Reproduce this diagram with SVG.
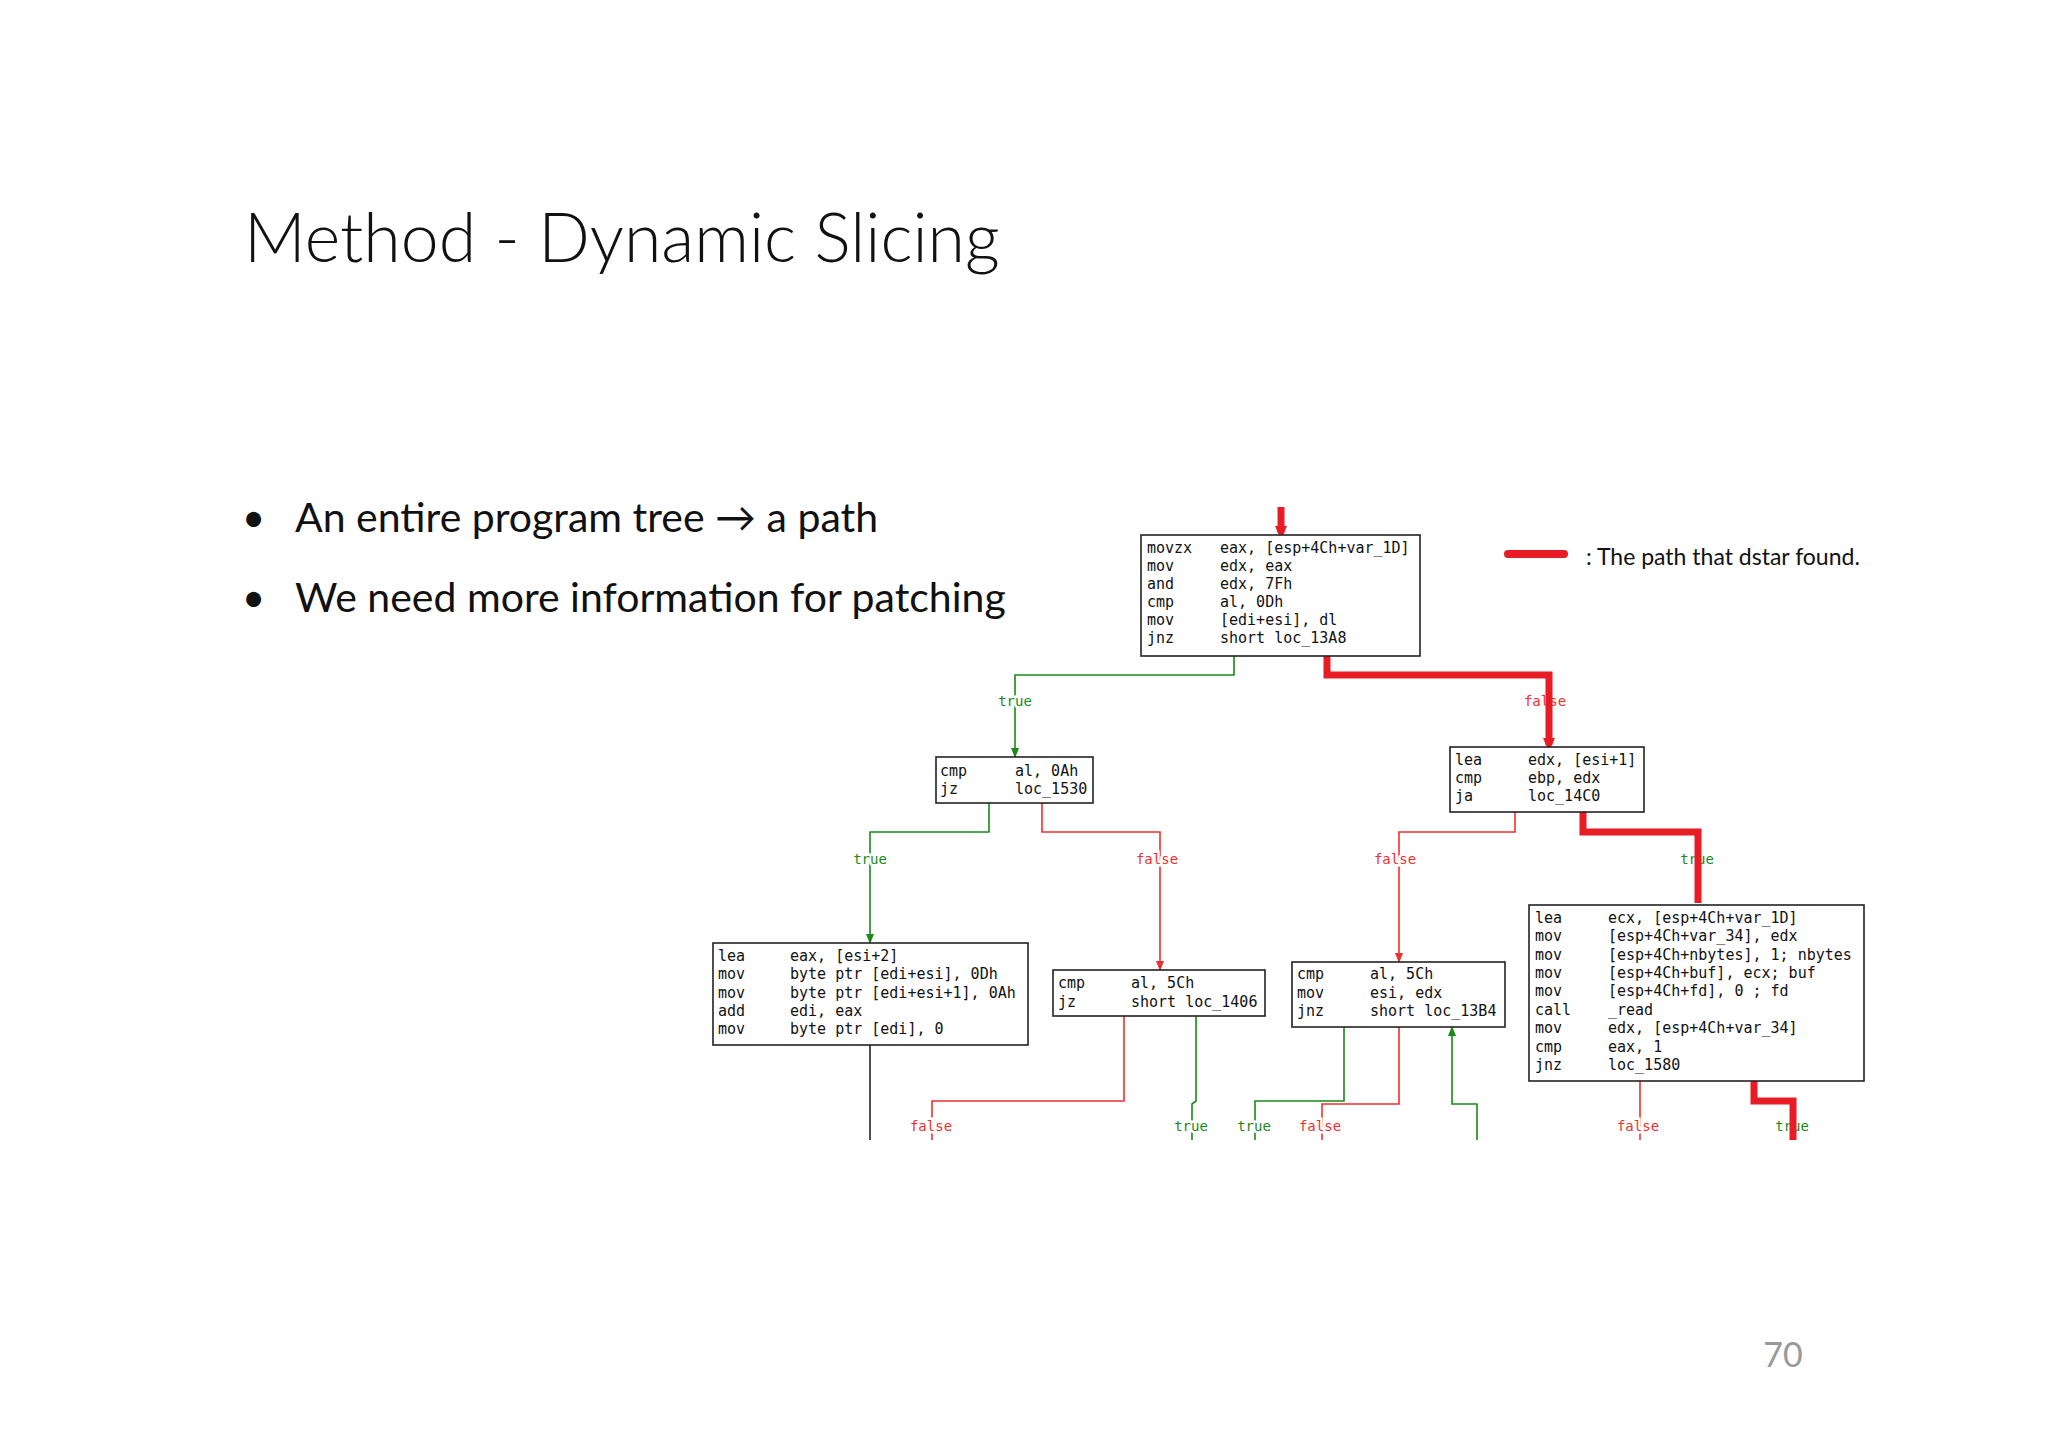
<svg xmlns="http://www.w3.org/2000/svg" width="2048" height="1447" viewBox="0 0 2048 1447">
<defs>
<style>
.t{font-family:Lato,"Open Sans","Liberation Sans",sans-serif;fill:#111}
.c{font-family:"DejaVu Sans Mono","Liberation Mono",monospace;font-size:15px;fill:#111}
.box{fill:#fff;stroke:#222;stroke-width:1.6}
.g{fill:none;stroke:#1a8a1a;stroke-width:1.6}
.r{fill:none;stroke:#f03030;stroke-width:1.6}
.k{fill:none;stroke:#222;stroke-width:1.6}
.R{fill:none;stroke:#e81c24;stroke-width:7}
.lb{font-family:"DejaVu Sans Mono","Liberation Mono",monospace;font-size:14px;text-anchor:middle;stroke:#fff;stroke-width:5;paint-order:stroke}
</style>
<marker id="ag" markerWidth="10" markerHeight="8" refX="9" refY="4" orient="auto" markerUnits="userSpaceOnUse"><path d="M0,0L10,4L0,8z" fill="#1a8a1a"/></marker>
<marker id="ar" markerWidth="10" markerHeight="8" refX="9" refY="4" orient="auto" markerUnits="userSpaceOnUse"><path d="M0,0L10,4L0,8z" fill="#f03030"/></marker>
<marker id="aR" markerWidth="14" markerHeight="12" refX="7" refY="6" orient="auto" markerUnits="userSpaceOnUse"><path d="M0,0L14,6L0,12z" fill="#e81c24"/></marker>
</defs>
<rect width="2048" height="1447" fill="#fff"/>
<text class="t" x="244" y="262" font-size="68" font-weight="300">Method - Dynamic Slicing</text>
<text class="t" x="242" y="532" font-size="40">•</text>
<text class="t" x="295" y="532" font-size="41">An entire program tree → a path</text>
<text class="t" x="242" y="612" font-size="40">•</text>
<text class="t" x="295" y="612" font-size="41">We need more information for patching</text>
<text class="t" x="1783" y="1367" font-size="34" fill="#999" text-anchor="middle" style="fill:#999">70</text>
<g id="legend"><line x1="1508" y1="554" x2="1564" y2="554" stroke="#e81c24" stroke-width="8" stroke-linecap="round"/><text class="t" x="1586" y="565" font-size="23">: The path that dstar found.</text></g>
<g id="connectors">
<polyline class="g" points="1234,656 1234,675 1015,675 1015,757" marker-end="url(#ag)"/>
<polyline class="g" points="989,803 989,832 870,832 870,943" marker-end="url(#ag)"/>
<polyline class="r" points="1042,803 1042,832 1160,832 1160,970" marker-end="url(#ar)"/>
<polyline class="r" points="1515,812 1515,832 1399,832 1399,962" marker-end="url(#ar)"/>
<polyline class="k" points="870,1045 870,1140"/>
<polyline class="r" points="1124,1016 1124,1101 932,1101 932,1140"/>
<polyline class="g" points="1196,1016 1196,1101 1192,1104 1192,1140"/>
<polyline class="g" points="1344,1027 1344,1101 1255,1101 1255,1140"/>
<polyline class="r" points="1399,1027 1399,1104 1322,1104 1322,1140"/>
<polyline class="g" points="1477,1140 1477,1104 1452,1104 1452,1027" marker-end="url(#ag)"/>
<polyline class="r" points="1640,1081 1640,1140"/>
<g>
<text class="lb" x="1015" y="706" fill="#1a8a1a">true</text>
<text class="lb" x="1545" y="706" fill="#f03030">false</text>
<text class="lb" x="870" y="864" fill="#1a8a1a">true</text>
<text class="lb" x="1157" y="864" fill="#f03030">false</text>
<text class="lb" x="1395" y="864" fill="#f03030">false</text>
<text class="lb" x="1697" y="864" fill="#1a8a1a">true</text>
<text class="lb" x="931" y="1131" fill="#f03030">false</text>
<text class="lb" x="1191" y="1131" fill="#1a8a1a">true</text>
<text class="lb" x="1254" y="1131" fill="#1a8a1a">true</text>
<text class="lb" x="1320" y="1131" fill="#f03030">false</text>
<text class="lb" x="1638" y="1131" fill="#f03030">false</text>
<text class="lb" x="1792" y="1131" fill="#1a8a1a">true</text>
</g>
<line class="R" x1="1281" y1="507" x2="1281" y2="533" marker-end="url(#aR)"/>
<polyline class="R" points="1327,656 1327,675 1549,675 1549,745" marker-end="url(#aR)"/>
<polyline class="R" points="1583,812 1583,832 1698,832 1698,903"/>
<polyline class="R" points="1754,1081 1754,1101 1793,1101 1793,1140"/>
</g>
<g id="n1"><rect class="box" x="1141" y="535" width="279" height="121"/>
<text class="c" x="1147" y="553">movzx</text><text class="c" x="1220" y="553">eax, [esp+4Ch+var_1D]</text>
<text class="c" x="1147" y="571">mov</text><text class="c" x="1220" y="571">edx, eax</text>
<text class="c" x="1147" y="589">and</text><text class="c" x="1220" y="589">edx, 7Fh</text>
<text class="c" x="1147" y="607">cmp</text><text class="c" x="1220" y="607">al, 0Dh</text>
<text class="c" x="1147" y="625">mov</text><text class="c" x="1220" y="625">[edi+esi], dl</text>
<text class="c" x="1147" y="643">jnz</text><text class="c" x="1220" y="643">short loc_13A8</text></g>
<g id="n2"><rect class="box" x="936" y="757" width="157" height="46"/>
<text class="c" x="940" y="776">cmp</text><text class="c" x="1015" y="776">al, 0Ah</text>
<text class="c" x="940" y="794">jz</text><text class="c" x="1015" y="794">loc_1530</text></g>
<g id="n3"><rect class="box" x="1450" y="747" width="194" height="65"/>
<text class="c" x="1455" y="765">lea</text><text class="c" x="1528" y="765">edx, [esi+1]</text>
<text class="c" x="1455" y="783">cmp</text><text class="c" x="1528" y="783">ebp, edx</text>
<text class="c" x="1455" y="801">ja</text><text class="c" x="1528" y="801">loc_14C0</text></g>
<g id="n4"><rect class="box" x="713" y="943" width="315" height="102"/>
<text class="c" x="718" y="961">lea</text><text class="c" x="790" y="961">eax, [esi+2]</text>
<text class="c" x="718" y="979">mov</text><text class="c" x="790" y="979">byte ptr [edi+esi], 0Dh</text>
<text class="c" x="718" y="998">mov</text><text class="c" x="790" y="998">byte ptr [edi+esi+1], 0Ah</text>
<text class="c" x="718" y="1016">add</text><text class="c" x="790" y="1016">edi, eax</text>
<text class="c" x="718" y="1034">mov</text><text class="c" x="790" y="1034">byte ptr [edi], 0</text></g>
<g id="n5"><rect class="box" x="1053" y="970" width="212" height="46"/>
<text class="c" x="1058" y="988">cmp</text><text class="c" x="1131" y="988">al, 5Ch</text>
<text class="c" x="1058" y="1007">jz</text><text class="c" x="1131" y="1007">short loc_1406</text></g>
<g id="n6"><rect class="box" x="1292" y="962" width="213" height="65"/>
<text class="c" x="1297" y="979">cmp</text><text class="c" x="1370" y="979">al, 5Ch</text>
<text class="c" x="1297" y="998">mov</text><text class="c" x="1370" y="998">esi, edx</text>
<text class="c" x="1297" y="1016">jnz</text><text class="c" x="1370" y="1016">short loc_13B4</text></g>
<g id="n7"><rect class="box" x="1529" y="905" width="335" height="176"/>
<text class="c" x="1535" y="923">lea</text><text class="c" x="1608" y="923">ecx, [esp+4Ch+var_1D]</text>
<text class="c" x="1535" y="941">mov</text><text class="c" x="1608" y="941">[esp+4Ch+var_34], edx</text>
<text class="c" x="1535" y="960">mov</text><text class="c" x="1608" y="960">[esp+4Ch+nbytes], 1; nbytes</text>
<text class="c" x="1535" y="978">mov</text><text class="c" x="1608" y="978">[esp+4Ch+buf], ecx; buf</text>
<text class="c" x="1535" y="996">mov</text><text class="c" x="1608" y="996">[esp+4Ch+fd], 0 ; fd</text>
<text class="c" x="1535" y="1015">call</text><text class="c" x="1608" y="1015">_read</text>
<text class="c" x="1535" y="1033">mov</text><text class="c" x="1608" y="1033">edx, [esp+4Ch+var_34]</text>
<text class="c" x="1535" y="1052">cmp</text><text class="c" x="1608" y="1052">eax, 1</text>
<text class="c" x="1535" y="1070">jnz</text><text class="c" x="1608" y="1070">loc_1580</text></g>
</svg>
